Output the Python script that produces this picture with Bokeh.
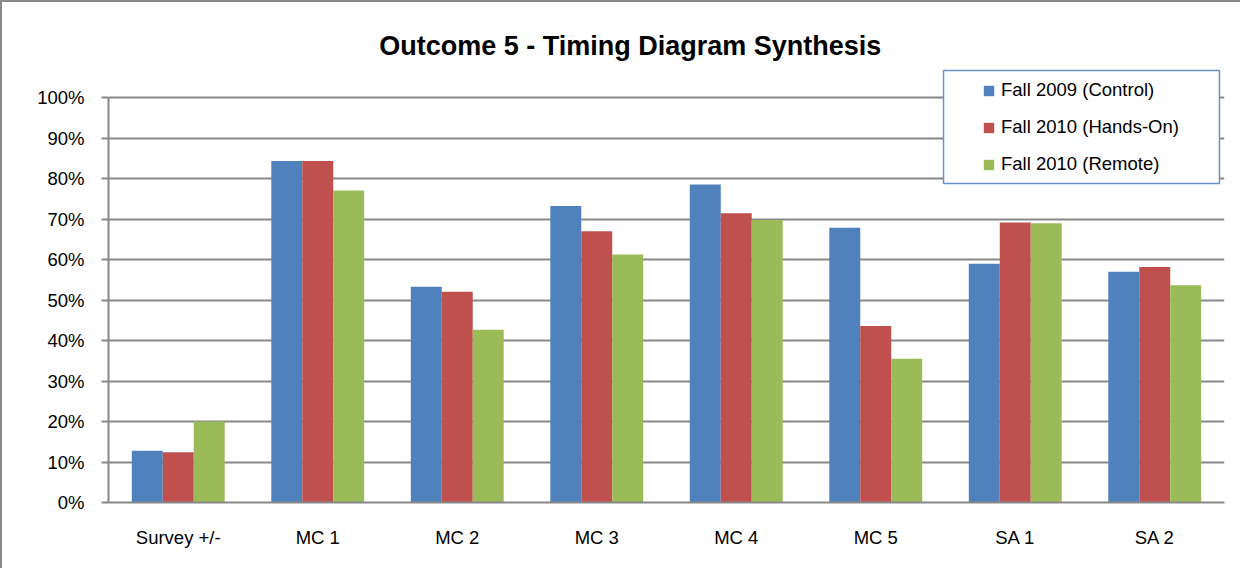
from bokeh.plotting import figure
from bokeh.models import (ColumnDataSource, FactorRange, Range1d, FixedTicker,
                          NumeralTickFormatter, Legend, LegendItem, Label, BoxAnnotation)
from bokeh.transform import dodge
from bokeh.embed import file_html
from bokeh.resources import INLINE

# ---- data ----
categories = ["Survey +/-", "MC 1", "MC 2", "MC 3", "MC 4", "MC 5", "SA 1", "SA 2"]
fall2009_control = [0.128, 0.844, 0.533, 0.733, 0.786, 0.679, 0.590, 0.570]
fall2010_handson = [0.124, 0.844, 0.521, 0.670, 0.715, 0.436, 0.692, 0.582]
fall2010_remote = [0.200, 0.771, 0.427, 0.613, 0.698, 0.355, 0.690, 0.537]
series_names = ["Fall 2009 (Control)", "Fall 2010 (Hands-On)", "Fall 2010 (Remote)"]
series_keys = ["control", "handson", "remote"]
series_colors = ["#4F81BD", "#C0504D", "#9BBB59"]
y_ticks = [0.0, 0.1, 0.2, 0.3, 0.4, 0.5, 0.6, 0.7, 0.8, 0.9, 1.0]
title_text = "Outcome 5 - Timing Diagram Synthesis"

source = ColumnDataSource(data=dict(cat=categories, control=fall2009_control,
                                    handson=fall2010_handson, remote=fall2010_remote))

FONT = "Liberation Sans"
GRAY = "#888888"

# frame extends above 100% so that the title and legend sit inside it
p = figure(x_range=FactorRange(*categories, range_padding=0), y_range=Range1d(0, 1.1911),
           width=1240, height=568, output_backend="svg", toolbar_location=None,
           min_border_left=106, min_border_right=18, min_border_top=18, min_border_bottom=68)
p.styles = {"border-left": "2px solid #898989", "border-top": "2px solid #898989"}
p.outline_line_color = None
p.background_fill_color = "white"
p.border_fill_color = "white"

bar_w = 0.222
offsets = [-bar_w, 0.0, bar_w]
renderers = []
for key, col, off in zip(series_keys, series_colors, offsets):
    r = p.vbar(x=dodge("cat", off, range=p.x_range), top=key, width=bar_w, source=source,
               fill_color=col, line_color=None)
    renderers.append(r)

# axes
p.yaxis.ticker = FixedTicker(ticks=y_ticks)
p.yaxis.bounds = (0, 1)
p.yaxis.formatter = NumeralTickFormatter(format="0%")
p.yaxis.axis_line_color = GRAY
p.yaxis.axis_line_width = 2
p.yaxis.major_tick_line_color = GRAY
p.yaxis.major_tick_line_width = 2
p.yaxis.major_tick_out = 7
p.yaxis.major_tick_in = 0
p.yaxis.minor_tick_line_color = None
p.yaxis.major_label_standoff = 17
p.yaxis.major_label_text_font = FONT
p.yaxis.major_label_text_font_size = "18.5px"
p.yaxis.major_label_text_color = "black"

p.xaxis.axis_line_color = GRAY
p.xaxis.axis_line_width = 2
p.xaxis.major_tick_line_color = None
p.xaxis.minor_tick_line_color = None
p.xaxis.major_tick_out = 0
p.xaxis.major_tick_in = 0
p.xaxis.major_label_standoff = 24
p.xaxis.major_label_text_font = FONT
p.xaxis.major_label_text_font_size = "18.5px"
p.xaxis.major_label_text_color = "black"

p.xgrid.grid_line_color = None
p.ygrid.grid_line_color = GRAY
p.ygrid.grid_line_width = 2

# title
p.add_layout(Label(x=3.74, y=1.129, text=title_text, text_align="center", text_baseline="middle",
                   text_font=FONT, text_font_size="27px", text_font_style="bold", text_color="black"))

# legend frame
p.add_layout(BoxAnnotation(left=5.986, right=7.964, bottom=0.788, top=1.0675,
                           fill_color="white", fill_alpha=1.0,
                           line_color="#6A92C8", line_width=1.5, line_alpha=1.0))

legend = Legend(items=[LegendItem(label=n, renderers=[r]) for n, r in zip(series_names, renderers)],
                location=(874, 327), orientation="vertical")
legend.padding = 0
legend.margin = 0
legend.spacing = 15
legend.label_height = 21
legend.glyph_height = 13
legend.glyph_width = 13
legend.label_standoff = 6
legend.label_text_font = FONT
legend.label_text_font_size = "18.5px"
legend.label_text_color = "black"
legend.border_line_color = None
legend.background_fill_alpha = 0
p.add_layout(legend)

open("out.html", "w").write(file_html(p, INLINE))
